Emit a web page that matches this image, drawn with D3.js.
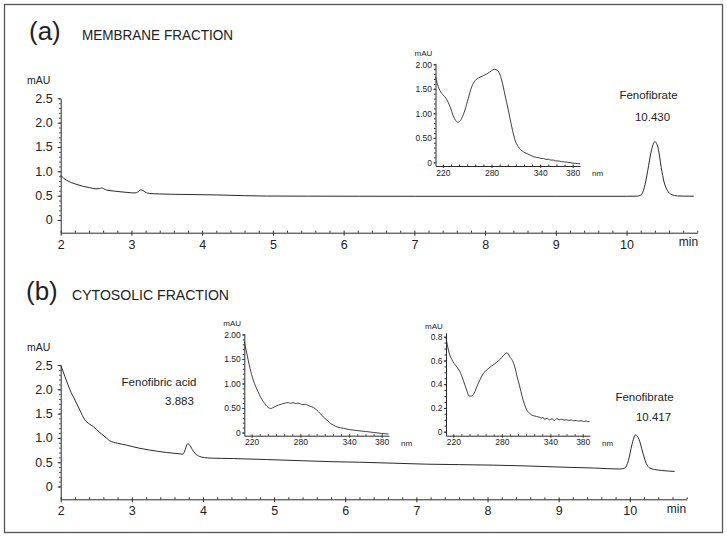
<!DOCTYPE html>
<html><head><meta charset="utf-8">
<script src="https://cdn.jsdelivr.net/npm/d3@7"></script>
<style>
body{margin:0;background:#fff}
text{font-family:"Liberation Sans",Arial,Helvetica,sans-serif;fill:#222}
</style>
</head><body>
<svg id="c" width="727" height="538"></svg>
<script>
// ---------- data ----------
const timeTicks = [2,3,4,5,6,7,8,9,10];
const mauTicks = [0,0.5,1.0,1.5,2.0,2.5];
const nmTicks = [220,280,340,380];
const specTicksBig = [0,0.5,1.0,1.5,2.0];
const specTicksSmall = [0,0.2,0.4,0.6,0.8];

// membrane fraction chromatogram [min, mAU]
const chromMembrane = [[2.00,0.92],[2.04,0.86],[2.08,0.82],[2.15,0.77],[2.23,0.73],[2.32,0.69],[2.41,0.665],[2.50,0.64],[2.55,0.645],[2.58,0.66],[2.61,0.64],[2.65,0.615],[2.75,0.595],[2.84,0.58],[2.95,0.565],[3.05,0.555],[3.09,0.575],[3.13,0.62],[3.17,0.60],[3.21,0.56],[3.26,0.545],[3.40,0.535],[3.73,0.525],[4.2,0.515],[4.6,0.50],[4.91,0.492],[5.5,0.49],[6.23,0.488],[7,0.487],[8,0.487],[9,0.487],[10.0,0.487],[10.15,0.49],[10.20,0.51],[10.25,0.66],[10.30,1.02],[10.35,1.42],[10.40,1.61],[10.45,1.45],[10.49,1.08],[10.53,0.78],[10.58,0.60],[10.64,0.52],[10.72,0.495],[10.80,0.49],[10.95,0.49]];

// cytosolic fraction chromatogram [min, mAU]
const chromCytosol = [[2.00,2.50],[2.03,2.38],[2.06,2.26],[2.10,2.10],[2.13,1.99],[2.20,1.78],[2.27,1.57],[2.34,1.37],[2.40,1.29],[2.46,1.23],[2.55,1.11],[2.65,0.99],[2.69,0.94],[2.80,0.89],[2.93,0.85],[3.10,0.79],[3.25,0.75],[3.49,0.70],[3.68,0.67],[3.72,0.665],[3.75,0.76],[3.785,0.88],[3.81,0.86],[3.85,0.76],[3.89,0.68],[3.95,0.62],[4.02,0.595],[4.10,0.585],[4.43,0.575],[4.89,0.555],[5.4,0.53],[5.83,0.51],[6.2,0.50],[7.14,0.46],[8.08,0.44],[8.5,0.425],[9.02,0.40],[9.5,0.38],[9.86,0.36],[9.93,0.38],[9.98,0.53],[10.03,0.86],[10.08,1.06],[10.13,0.97],[10.18,0.71],[10.23,0.48],[10.28,0.38],[10.35,0.35],[10.45,0.33],[10.63,0.31]];

// UV spectra [nm, mAU]
const specMembraneFeno = [[211,1.747],[214.4,1.543],[218.6,1.408],[223.9,1.306],[228.9,1.135],[232.9,0.945],[236,0.85],[238.3,0.816],[240.5,0.83],[243.3,0.898],[247.3,1.067],[251.4,1.306],[255.6,1.543],[259.7,1.665],[265.8,1.735],[274.1,1.802],[280.2,1.87],[283.4,1.898],[287.6,1.87],[292.5,1.68],[296.6,1.373],[300.7,1.067],[304.9,0.727],[308.9,0.455],[313,0.318],[319.2,0.216],[323,0.18],[327.4,0.149],[331,0.12],[335.7,0.10],[338,0.095],[341,0.08],[344,0.078],[347,0.06],[350,0.062],[353,0.045],[356,0.047],[359,0.03],[362,0.028],[366,0.015],[370,0.008],[374,0.0],[378,-0.01],[382,-0.02],[386,-0.025],[389,-0.03]];

const specCytosolAcid = [[211,1.85],[214,1.62],[218,1.31],[222,1.07],[225,0.94],[228,0.83],[231,0.72],[234.4,0.63],[237.5,0.56],[240.6,0.51],[243.5,0.49],[246,0.505],[248.8,0.53],[253,0.56],[257,0.58],[261,0.60],[265.2,0.61],[268,0.595],[271,0.61],[274,0.59],[277,0.60],[280,0.585],[283,0.57],[286,0.575],[289,0.555],[292,0.535],[296,0.51],[300,0.46],[304.3,0.39],[308,0.32],[312.5,0.255],[316,0.20],[320.6,0.15],[326,0.11],[333,0.085],[340,0.06],[345,0.05],[349.5,0.04],[355,0.03],[360,0.02],[365,0.012],[370,0.0],[375,-0.008],[380,-0.02],[384,-0.025],[388.4,-0.03]];

const specCytosolFeno = [[211,0.79],[213.9,0.69],[216,0.64],[218,0.61],[221,0.575],[224.2,0.547],[228.2,0.505],[232.3,0.435],[236.5,0.351],[239.7,0.30],[242.7,0.30],[244.5,0.31],[246.7,0.337],[249.5,0.385],[252.9,0.435],[256,0.478],[259,0.505],[263,0.53],[267.3,0.553],[271,0.57],[275.4,0.595],[278,0.61],[281.6,0.64],[283.5,0.65],[285.8,0.665],[288,0.655],[289.8,0.632],[293,0.60],[296,0.547],[299,0.46],[302.2,0.379],[305,0.30],[308.3,0.225],[311,0.18],[314.5,0.155],[317,0.14],[320.6,0.132],[323,0.128],[326.8,0.121],[329,0.115],[331,0.12],[333,0.104],[336,0.113],[339,0.10],[342,0.108],[345,0.095],[348,0.11],[351,0.10],[354,0.105],[357,0.098],[360,0.10],[363,0.095],[366,0.098],[369,0.092],[372,0.095],[375,0.088],[378,0.093],[381,0.085],[384,0.09],[386,0.085],[388.4,0.084]];

const panelTitles = [["(a)","MEMBRANE FRACTION"],["(b)","CYTOSOLIC FRACTION"]];
const peakNames = ["Fenofibrate","Fenofibric acid","Fenofibrate"];
const peakTimes = ["10.430","3.883","10.417"];

// ---------- drawing ----------
const svg = d3.select("#c");
const INK = "#2a2a2a";

svg.append("rect").attr("x",4.5).attr("y",4.5).attr("width",718).attr("height",528)
  .attr("fill","none").attr("stroke","#555").attr("stroke-width",1.3);

function styleAxis(g){
  g.selectAll("path.domain").attr("stroke",INK).attr("stroke-width",1);
  g.selectAll(".tick line").attr("stroke",INK).attr("stroke-width",1);
  g.selectAll(".tick text").attr("fill","#222").attr("font-family",null);
}

function fmtMau(d){ return d===0 ? "0" : d3.format(".1f")(d); }

function mainPanel(data, xs, ys){
  const g = svg.append("g");
  const y0 = ys.range()[0], x0 = xs.range()[0];
  // minor x ticks
  const gxm = g.append("g").attr("transform",`translate(0,${y0})`)
    .call(d3.axisBottom(xs).tickValues(d3.range(2, xs.domain()[1]+0.001, 0.2)).tickSize(-2).tickSizeOuter(0).tickFormat(""));
  gxm.select("path.domain").remove(); styleAxis(gxm);
  const gx = g.append("g").attr("transform",`translate(0,${y0})`)
    .call(d3.axisBottom(xs).tickValues(timeTicks).tickSize(3).tickPadding(4).tickSizeOuter(0).tickFormat(d3.format("d")));
  gx.attr("font-size",12.5); styleAxis(gx);
  const gym = g.append("g").attr("transform",`translate(${x0},0)`)
    .call(d3.axisLeft(ys).tickValues(d3.range(0,2.501,0.1)).tickSize(1.5).tickSizeOuter(0).tickFormat(""));
  gym.select("path.domain").remove(); styleAxis(gym);
  const gy = g.append("g").attr("transform",`translate(${x0},0)`)
    .call(d3.axisLeft(ys).tickValues(mauTicks).tickSize(3).tickPadding(5).tickSizeOuter(0).tickFormat(fmtMau));
  gy.attr("font-size",12.5); styleAxis(gy);
  g.append("path").datum(data)
    .attr("d", d3.line().x(d=>xs(d[0])).y(d=>ys(d[1])).curve(d3.curveMonotoneX))
    .attr("fill","none").attr("stroke",INK).attr("stroke-width",1);
  g.append("text").attr("x",27).attr("y",ys(2.5)-14).attr("font-size",10.5).text("mAU");
  return g;
}

function inset(data, xs, ys, yTicks, yFmt, minorStep){
  const g = svg.append("g");
  const y0 = ys.range()[0], x0 = xs.range()[0];
  const gxm = g.append("g").attr("transform",`translate(0,${y0})`)
    .call(d3.axisBottom(xs).tickValues(d3.range(220, 381, 10)).tickSize(-1.5).tickSizeOuter(0).tickFormat(""));
  gxm.select("path.domain").remove(); styleAxis(gxm);
  const gx = g.append("g").attr("transform",`translate(0,${y0})`)
    .call(d3.axisBottom(xs).tickValues(nmTicks).tickSize(2).tickPadding(1.5).tickSizeOuter(0).tickFormat(d3.format("d")));
  gx.attr("font-size",8.5); styleAxis(gx);
  const top = yTicks[yTicks.length-1];
  const gym = g.append("g").attr("transform",`translate(${x0},0)`)
    .call(d3.axisLeft(ys).tickValues(d3.range(0, top+1e-6, minorStep)).tickSize(1.5).tickSizeOuter(0).tickFormat(""));
  gym.select("path.domain").remove(); styleAxis(gym);
  const gy = g.append("g").attr("transform",`translate(${x0},0)`)
    .call(d3.axisLeft(ys).tickValues(yTicks).tickSize(2).tickPadding(1.5).tickSizeOuter(0).tickFormat(yFmt));
  gy.attr("font-size",8.5); styleAxis(gy);
  g.append("path").datum(data)
    .attr("d", d3.line().x(d=>xs(d[0])).y(d=>ys(d[1])).curve(d3.curveMonotoneX))
    .attr("fill","none").attr("stroke",INK).attr("stroke-width",0.9);
  g.append("text").attr("x",x0-21).attr("y",ys(top)-8).attr("font-size",8).text("mAU");
  g.append("text").attr("x",xs.range()[1]+12).attr("y",y0+10).attr("font-size",8).text("nm");
}

// Titles
[[29,40,82,151],[26,300,72,157]].forEach((p,i)=>{
  svg.append("text").attr("x",p[0]).attr("y",p[1]).attr("font-size",26).text(panelTitles[i][0]);
  svg.append("text").attr("x",p[2]).attr("y",p[1]-0.5).attr("font-size",14)
    .attr("textLength",p[3]).attr("lengthAdjust","spacingAndGlyphs").text(panelTitles[i][1]);
});

// Panel (a)
const xA = d3.scaleLinear().domain([2,11]).range([60.7,697.3]);
const yA = d3.scaleLinear().domain([-0.261,2.5]).range([232.7,98.3]);
mainPanel(chromMembrane, xA, yA);
svg.append("text").attr("x",688.5).attr("y",246).attr("text-anchor","middle").attr("font-size",12).text("min");
svg.append("text").attr("x",648.5).attr("y",99).attr("text-anchor","middle").attr("font-size",11.5).text(peakNames[0]);
svg.append("text").attr("x",652.5).attr("y",121).attr("text-anchor","middle").attr("font-size",11.5).text(peakTimes[0]);

// Panel (b)
const xB = d3.scaleLinear().domain([2,10.8]).range([60.7,686.7]);
const yB = d3.scaleLinear().domain([-0.263,2.5]).range([499.3,365]);
mainPanel(chromCytosol, xB, yB);
svg.append("text").attr("x",676.5).attr("y",513).attr("text-anchor","middle").attr("font-size",12).text("min");
svg.append("text").attr("x",159).attr("y",386).attr("text-anchor","middle").attr("font-size",11.5).text(peakNames[1]);
svg.append("text").attr("x",179.5).attr("y",404.5).attr("text-anchor","middle").attr("font-size",11.5).text(peakTimes[1]);
svg.append("text").attr("x",644.5).attr("y",401).attr("text-anchor","middle").attr("font-size",11.5).text(peakNames[2]);
svg.append("text").attr("x",653.5).attr("y",420.5).attr("text-anchor","middle").attr("font-size",11.5).text(peakTimes[2]);

// Insets
const fmt2 = d => d===0 ? "0" : d3.format(".2f")(d);
const fmt1 = d => d===0 ? "0" : d3.format(".1f")(d);
inset(specMembraneFeno,
  d3.scaleLinear().domain([211,389]).range([435.5,580]),
  d3.scaleLinear().domain([-0.075,2.02]).range([166,63.3]), specTicksBig, fmt2, 0.1);
inset(specCytosolAcid,
  d3.scaleLinear().domain([211,389]).range([244.3,389]),
  d3.scaleLinear().domain([-0.065,2.02]).range([435.7,333.5]), specTicksBig, fmt2, 0.1);
inset(specCytosolFeno,
  d3.scaleLinear().domain([211,389]).range([446,590]),
  d3.scaleLinear().domain([-0.034,0.834]).range([435.7,332.7]), specTicksSmall, fmt1, 0.05);
</script>
</body></html>
